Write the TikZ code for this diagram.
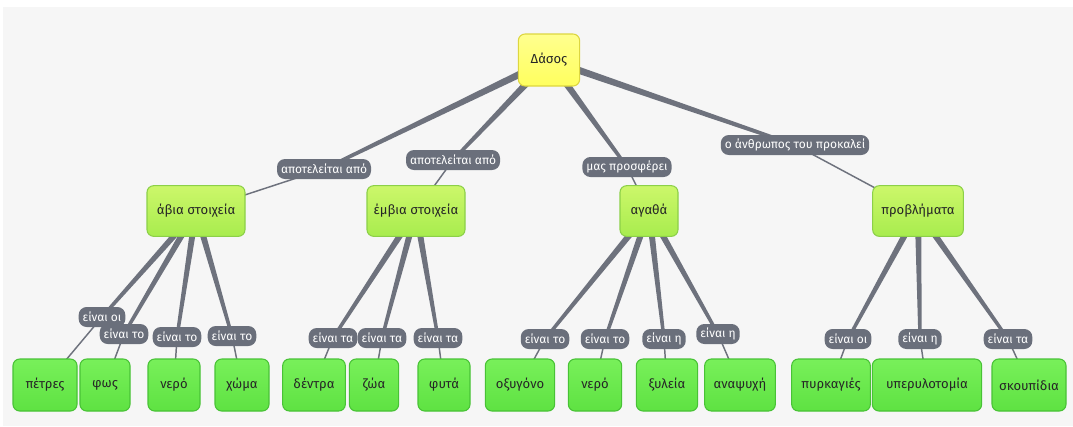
\documentclass[tikz,border=0pt]{standalone}
\usepackage{fontspec}
\setmainfont{Fira Sans}
\usetikzlibrary{calc}
\definecolor{bgc}{HTML}{F6F6F6}
\definecolor{edgec}{HTML}{6E727D}
\definecolor{labc}{HTML}{6A6F7B}
\definecolor{rootf}{HTML}{FFFF5E}
\definecolor{rootd}{HTML}{DDD640}
\definecolor{midt}{HTML}{CCF76A}
\definecolor{midb}{HTML}{A8EC4E}
\definecolor{midd}{HTML}{8CD048}
\definecolor{leaft}{HTML}{78F05A}
\definecolor{leafb}{HTML}{5EE242}
\definecolor{leafd}{HTML}{48C236}
\pgfdeclarelayer{bg}
\pgfdeclarelayer{canvas}
\pgfsetlayers{canvas,bg,main}
\newcommand\taper[4]{\fill[edgec] ($(#1.center)!#3!90:(#2.center)$) -- ($(#2.center)!#4!-90:(#1.center)$) -- ($(#2.center)!#4!90:(#1.center)$) -- ($(#1.center)!#3!-90:(#2.center)$) -- cycle;}
\newcommand\thin[2]{\draw[edgec,line width=1.1pt] (#1.center) -- (#2.center);}
\tikzset{
  rootbox/.style={draw=rootd,line width=0.8pt,rounded corners=5pt,top color=rootf!70!white,bottom color=rootf,minimum width=46pt,minimum height=39pt,font=\fontsize{9.8}{11}\selectfont,text=black!85},
  midbox/.style={draw=midd,line width=0.8pt,rounded corners=5pt,top color=midt,bottom color=midb,minimum width=73.5pt,minimum height=38pt,font=\fontsize{9.8}{11}\selectfont,text=black!85},
  leafbox/.style={draw=leafd,line width=0.8pt,rounded corners=5pt,top color=leaft,bottom color=leafb,minimum height=39pt,font=\fontsize{9.8}{11}\selectfont,text=black!85},
  lab/.style={fill=labc,text=white,rounded corners=6pt,minimum height=15pt,inner xsep=3pt,inner ysep=1pt,font=\fontsize{9}{10}\selectfont}
}
\begin{document}
\begin{tikzpicture}[x=0.75pt,y=-0.75pt]
\begin{pgfonlayer}{canvas}
\fill[white] (0,0) rectangle (1073,426);
\fill[bgc] (3,7) rectangle (1073,426);
\end{pgfonlayer}
\useasboundingbox (0,0) rectangle (1073,426);
% root
\node[rootbox] (root) at (549,60) {Δάσος};
% level 2
\node[midbox] (abia) at (196,211) {άβια στοιχεία};
\node[midbox] (embia) at (416,211) {έμβια στοιχεία};
\node[midbox,minimum width=43.5pt] (agatha) at (649,211) {αγαθά};
\node[midbox,minimum width=68pt] (probl) at (918,211) {προβλήματα};
% level 1 labels
\node[lab] (l1) at (324,169) {αποτελείται από};
\node[lab] (l2) at (453,160) {αποτελείται από};
\node[lab] (l3) at (627,167) {μας προσφέρει};
\node[lab] (l4) at (795,145) {ο άνθρωπος του προκαλεί};
% leaves
\node[leafbox,minimum width=48pt] (petres) at (45,385) {πέτρες};
\node[leafbox,minimum width=37.5pt] (fos) at (105,385) {φως};
\node[leafbox,minimum width=39pt] (nero) at (174,385) {νερό};
\node[leafbox,minimum width=40.5pt] (xoma) at (242,385) {χώμα};
\node[leafbox,minimum width=47pt] (dentra) at (314,385) {δέντρα};
\node[leafbox,minimum width=37pt] (zoa) at (374,385) {ζώα};
\node[leafbox,minimum width=39pt] (fyta) at (444,385) {φυτά};
\node[leafbox,minimum width=52pt] (oxy) at (520,385) {οξυγόνο};
\node[leafbox,minimum width=40pt] (nerob) at (595,385) {νερό};
\node[leafbox,minimum width=46pt] (xyl) at (667,385) {ξυλεία};
\node[leafbox,minimum width=53pt] (anap) at (740,385) {αναψυχή};
\node[leafbox,minimum width=59pt] (pyrk) at (831,385) {πυρκαγιές};
\node[leafbox,minimum width=82pt] (yper) at (927,385) {υπερυλοτομία};
\node[leafbox,minimum width=55.5pt] (skoup) at (1029,385) {σκουπίδια};
% level 2 labels
\node[lab] (a1) at (102,317) {είναι οι};
\node[lab] (a2) at (124,334) {είναι το};
\node[lab] (a3) at (177,337) {είναι το};
\node[lab] (a4) at (232,336) {είναι το};
\node[lab] (b1) at (333,338) {είναι τα};
\node[lab] (b2) at (382,338) {είναι τα};
\node[lab] (b3) at (438,338) {είναι τα};
\node[lab] (c1) at (545,339) {είναι το};
\node[lab] (c2) at (605,339) {είναι το};
\node[lab] (c3) at (664,339) {είναι η};
\node[lab] (c4) at (718,334) {είναι η};
\node[lab] (d1) at (848,339) {είναι οι};
\node[lab] (d2) at (920,339) {είναι η};
\node[lab] (d3) at (1008,339) {είναι τα};
\begin{pgfonlayer}{bg}
\taper{root}{l1}{2.8pt}{1.2pt}
\taper{root}{l2}{2.8pt}{1.2pt}
\taper{root}{l3}{2.8pt}{1.2pt}
\taper{root}{l4}{2.8pt}{1.2pt}
\thin{l1}{abia}
\thin{l2}{embia}
\thin{l3}{agatha}
\thin{l4}{probl}
\taper{abia}{a1}{2.5pt}{1.2pt}
\taper{abia}{a2}{2.5pt}{1.2pt}
\taper{abia}{a3}{2.5pt}{1.2pt}
\taper{abia}{a4}{2.5pt}{1.2pt}
\taper{embia}{b1}{2.5pt}{1.2pt}
\taper{embia}{b2}{2.5pt}{1.2pt}
\taper{embia}{b3}{2.5pt}{1.2pt}
\taper{agatha}{c1}{2.5pt}{1.2pt}
\taper{agatha}{c2}{2.5pt}{1.2pt}
\taper{agatha}{c3}{2.5pt}{1.2pt}
\taper{agatha}{c4}{2.5pt}{1.2pt}
\taper{probl}{d1}{2.5pt}{1.2pt}
\taper{probl}{d2}{2.5pt}{1.2pt}
\taper{probl}{d3}{2.5pt}{1.2pt}
\thin{a1}{petres}
\thin{a2}{fos}
\thin{a3}{nero}
\thin{a4}{xoma}
\thin{b1}{dentra}
\thin{b2}{zoa}
\thin{b3}{fyta}
\thin{c1}{oxy}
\thin{c2}{nerob}
\thin{c3}{xyl}
\thin{c4}{anap}
\thin{d1}{pyrk}
\thin{d2}{yper}
\thin{d3}{skoup}
\end{pgfonlayer}
\end{tikzpicture}
\end{document}
